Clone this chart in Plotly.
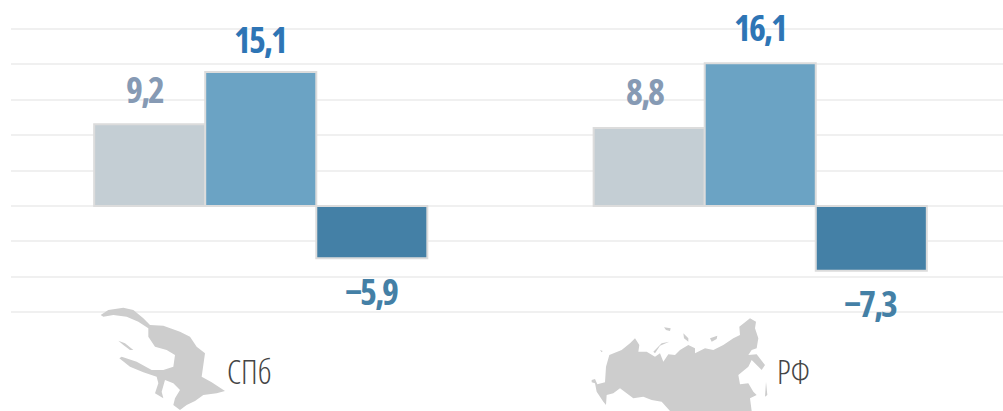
import plotly.graph_objects as go

categories = ["СПб", "РФ"]
series_a = [9.2, 8.8]
series_b = [15.1, 16.1]
series_c = [-5.9, -7.3]
labels_a = ["9,2", "8,8"]
labels_b = ["15,1", "16,1"]
labels_c = ["−5,9", "−7,3"]
grid_values = [-12, -8, -4, 0, 4, 8, 12, 16, 20]

color_a, color_b, color_c = "#c4ced4", "#6ba3c4", "#4480a6"
label_a, label_b, label_c = "#869ab4", "#2e75b5", "#4480a6"
FONT = "Open Sans"

# decorative map silhouettes (outlines)
spb_shape = [
    [(62,60),(85,45),(130,38),(160,45),(190,70),(210,90),(250,92),(300,110),(330,125),(350,155),(375,175),
     (372,200),(365,245),(395,262),(435,288),(410,295),(370,300),(345,318),(320,330),(300,345),(280,330),
     (285,310),(300,285),(280,265),(255,255),(245,290),(250,310),(225,295),(235,265),(230,245),(190,232),
     (150,215),(118,190),(125,185),(170,200),(215,225),(250,225),(280,215),(285,180),(260,165),(225,155),
     (205,125),(205,100),(175,80),(140,65),(100,60),(70,65)],
    [(115,137),(135,145),(160,165),(150,165),(130,150)],
]
russia_shape = [
    [(35,255),(45,252),(52,268),(75,262),(78,215),(88,180),(125,165),(150,145),(165,130),(178,150),(175,170),
     (200,170),(225,185),(240,175),(250,200),(265,178),(285,180),(300,165),(325,150),(345,160),(345,175),
     (375,160),(400,165),(430,150),(460,130),(480,120),(478,95),(510,70),(528,80),(525,100),(535,130),
     (530,160),(515,165),(505,180),(530,178),(555,210),(545,225),(515,195),(505,215),(475,240),(480,268),
     (505,265),(520,290),(530,300),(510,310),(515,348),(270,348),(245,320),(215,315),(190,305),(160,310),
     (120,280),(100,295),(80,300),(78,330),(70,320),(50,290),(45,265),(35,262)],
    [(220,170),(245,145),(268,140),(240,152),(225,175)],
    [(310,115),(325,130),(325,140),(312,130)],
    [(390,130),(412,122),(410,132),(395,140)],
    [(252,97),(272,100),(270,108),(258,105)],
    [(60,165),(68,168),(65,172)],
    [(558,260),(562,300),(555,305),(556,270)],
]


def outline(shape, ox, oy):
    xs, ys = [], []
    for ring in shape:
        for px, py in ring + ring[:1]:
            xs.append(ox + px / 3)
            ys.append(oy + py / 3)
        xs.append(None)
        ys.append(None)
    return xs, ys


def narrow(text, spacing=0):
    return f"<span style='font-stretch:75%;letter-spacing:{spacing}px'>{text}</span>"


fig = go.Figure()
for vals, col in [(series_a, color_a), (series_b, color_b), (series_c, color_c)]:
    fig.add_bar(x=[0, 1], y=vals, marker=dict(color=col, line=dict(color="#dcdcdc", width=2)),
                hoverinfo="skip", showlegend=False)

for shape, ox, oy in [(spb_shape, 80, 295), (russia_shape, 580, 295)]:
    xs, ys = outline(shape, ox, oy)
    fig.add_scatter(x=xs, y=ys, xaxis="x2", yaxis="y2", mode="lines", fill="toself",
                    fillcolor="#cdcdcd", line=dict(width=0, color="#cdcdcd"),
                    hoverinfo="skip", showlegend=False)

annotations = []
groups = [(labels_a, series_a, label_a, -0.231, [35, 36]),
          (labels_b, series_b, label_b, -0.001, [33, 36]),
          (labels_c, series_c, label_c, 0.221, [-33, -33])]
for labs, vals, col, dx, shifts in groups:
    for i, (lab, v) in enumerate(zip(labs, vals)):
        annotations.append(dict(x=i + dx, y=v, xref="x", yref="y", text=narrow(lab, -2), showarrow=False,
                                yshift=shifts[i], font=dict(family=FONT, size=36, color=col, weight="bold")))
for cat, px in zip(categories, [249, 793.5]):
    annotations.append(dict(x=px, y=371, xref="x2", yref="y2", text=narrow(cat), showarrow=False,
                            font=dict(family=FONT, size=33, color="#454545", weight=300)))

fig.update_layout(
    width=1003, height=411, margin=dict(l=0, r=0, t=0, b=0),
    paper_bgcolor="white", plot_bgcolor="white",
    barmode="group", bargap=0.333, bargroupgap=0,
    xaxis=dict(domain=[11 / 1003, 1], range=[-0.5, 1.486], showgrid=False, zeroline=False,
               showticklabels=False, ticks="", fixedrange=True),
    yaxis=dict(domain=[0, 1], range=[-23.11, 23.22], tickmode="array", tickvals=grid_values,
               showgrid=True, gridcolor="#f0f0f0", gridwidth=1.5, zeroline=False,
               showticklabels=False, ticks="", fixedrange=True),
    xaxis2=dict(range=[11, 1003], overlaying="x", visible=False, fixedrange=True),
    yaxis2=dict(range=[411, 0], overlaying="y", visible=False, fixedrange=True),
    annotations=annotations,
)
fig.write_html("out.html", config=dict(displayModeBar=False),
               post_script="document.body.style.margin='0';document.documentElement.style.overflow='hidden';")
